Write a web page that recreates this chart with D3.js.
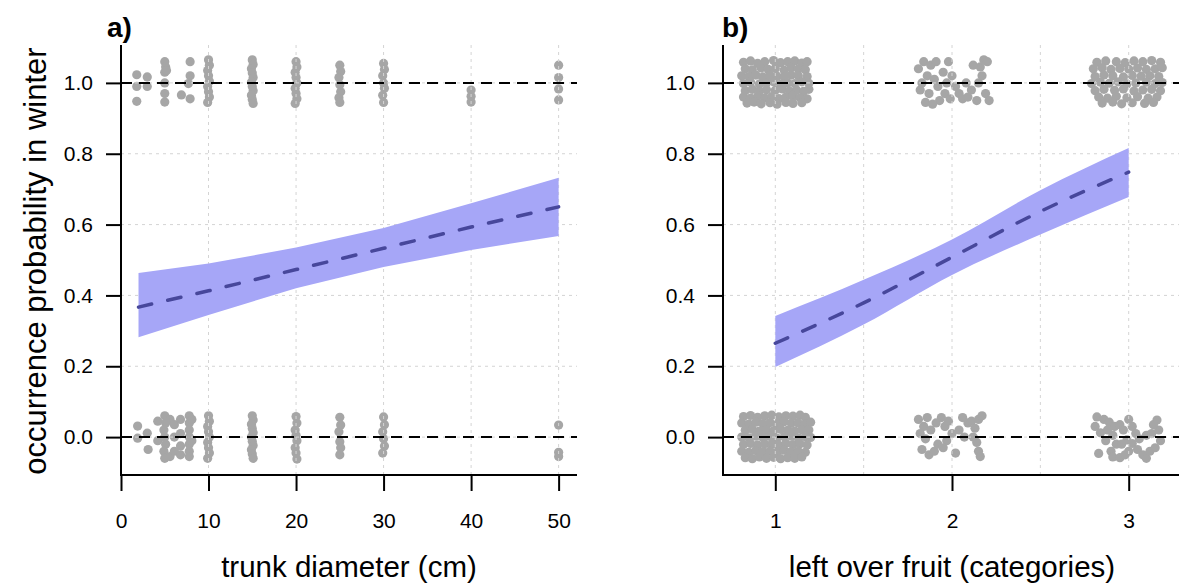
<!DOCTYPE html>
<html lang="en">
<head>
<meta charset="UTF-8">
<title>Occurrence probability in winter</title>
<script src="https://cdnjs.cloudflare.com/ajax/libs/d3/7.8.5/d3.min.js"></script>
<style>
  body { margin: 0; background: #fff; }
  svg { display: block; font-family: "Liberation Sans", Arial, sans-serif; }
</style>
</head>
<body>
<svg width="1179" height="588"></svg>
<script>
// shared y axis
const probTicks = [0, 0.2, 0.4, 0.6, 0.8, 1.0];

// panel a: trunk diameter
const trunkTicks = [0, 10, 20, 30, 40, 50];
const trunkGrid = [0, 10, 20, 30, 40, 50];
const trunkFitX = [2, 10, 20, 30, 40, 50];
const trunkFit = [0.367, 0.413, 0.473, 0.533, 0.593, 0.65];
const trunkLower = [0.282, 0.345, 0.42, 0.48, 0.528, 0.568];
const trunkUpper = [0.463, 0.49, 0.535, 0.59, 0.66, 0.732];
// jittered observations [diameter, occurrence]
const trunkPoints = [
  [1.8,1.023],[1.8,0.99],[1.8,0.948],[3.0,1.017],[3.0,0.99],
  [5.0,1.06],[5.1,1.045],[5.0,1.03],[5.2,1.035],[5.0,1.0],[5.0,0.97],[5.0,0.946],
  [6.9,0.966],[7.9,1.06],[7.9,1.02],[7.7,0.998],[7.9,0.955],
  [10,1.065],[10.1,1.05],[9.9,1.035],[10,1.02],[10.1,1.005],[9.9,0.99],[10,0.975],[10.1,0.96],[9.9,0.945],
  [15,1.065],[15.1,1.052],[14.9,1.04],[15,1.028],[15.1,1.015],[14.9,1.002],[15,0.99],[15.1,0.978],[14.9,0.965],[15,0.953],[15.1,0.942],
  [20,1.06],[20.1,1.045],[19.9,1.03],[20,1.015],[20.1,1.0],[19.9,0.985],[20,0.97],[20.1,0.955],[19.9,0.942],
  [25,1.05],[25.1,1.032],[24.9,1.015],[25,0.995],[25.1,0.975],[24.9,0.958],[25,0.945],
  [30,1.055],[30.1,1.038],[29.9,1.02],[30,1.0],[30.1,0.985],[29.9,0.965],[30,0.945],
  [40,0.98],[40,0.962],[40,0.946],
  [50,1.05],[50,1.015],[50,0.983],[50,0.952],
  [1.9,0.031],[1.9,-0.003],[3.0,0.011],[3.1,-0.035],
  [4.2,0.045],[4.2,-0.01],
  [5,0.06],[5.1,0.04],[4.9,0.02],[5,0],[5.1,-0.02],[4.9,-0.04],[5,-0.06],
  [5.6,0.05],[5.6,-0.055],[6.1,0.035],[6.1,0.0],[6.1,-0.04],
  [6.8,0.05],[6.8,0.01],[6.8,-0.025],[6.8,-0.05],
  [7.8,0.06],[7.8,0.04],[7.8,0.02],[7.8,0],[7.8,-0.02],[7.8,-0.04],[7.8,-0.055],
  [8.1,0.05],[8.1,-0.01],
  [10,0.06],[10.1,0.045],[9.9,0.03],[10,0.015],[10.1,0.0],[9.9,-0.015],[10,-0.03],[10.1,-0.045],[9.9,-0.06],
  [15,0.06],[15.1,0.048],[14.9,0.036],[15,0.024],[15.1,0.012],[14.9,0],[15,-0.012],[15.1,-0.024],[14.9,-0.036],[15,-0.048],[15.1,-0.06],
  [20,0.058],[20.1,0.04],[19.9,0.02],[20,0.005],[20.1,-0.01],[19.9,-0.03],[20,-0.045],[20.1,-0.062],
  [25,0.056],[25.1,0.034],[24.9,0.015],[25,-0.013],[25.1,-0.03],[25,-0.05],
  [30,0.057],[30.1,0.035],[29.9,0.015],[30,-0.005],[30.1,-0.025],[29.9,-0.045],
  [50,0.034],[50,-0.043],[50,-0.055]
];

// panel b: left over fruit
const fruitTicks = [1, 2, 3];
const fruitGrid = [1, 1.5, 2, 2.5, 3];
const fruitFitX = [1, 1.5, 2, 2.5, 3];
const fruitFit = [0.265, 0.379, 0.508, 0.637, 0.748];
const fruitLower = [0.198, 0.318, 0.458, 0.572, 0.678];
const fruitUpper = [0.342, 0.444, 0.558, 0.697, 0.816];
// jittered observations [category, occurrence]
const fruitPoints = [
  [0.82,1.058],[0.86,1.062],[0.9,1.055],[0.94,1.06],[0.99,1.063],[1.03,1.057],[1.07,1.06],[1.11,1.062],[1.15,1.056],[1.18,1.06],
  [0.83,1.04],[0.87,1.037],[0.92,1.042],[0.96,1.038],[1.0,1.041],[1.05,1.036],[1.09,1.043],[1.13,1.039],[1.17,1.037],
  [0.81,1.02],[0.85,1.018],[0.89,1.022],[0.93,1.017],[0.97,1.021],[1.01,1.019],[1.05,1.016],[1.09,1.022],[1.13,1.02],[1.18,1.018],
  [0.82,0.998],[0.86,1.002],[0.91,0.997],[0.95,1.0],[0.99,1.003],[1.03,0.996],[1.07,1.0],[1.11,0.998],[1.15,1.003],[1.19,0.999],
  [0.83,0.978],[0.87,0.982],[0.91,0.977],[0.95,0.981],[1.0,0.979],[1.04,0.983],[1.08,0.977],[1.12,0.98],[1.16,0.976],[1.19,0.982],
  [0.82,0.96],[0.86,0.957],[0.9,0.962],[0.94,0.958],[0.98,0.961],[1.02,0.956],[1.06,0.96],[1.1,0.963],[1.14,0.958],[1.18,0.955],
  [0.84,0.943],[0.88,0.946],[0.92,0.941],[0.97,0.944],[1.01,0.94],[1.06,0.945],[1.1,0.942],[1.15,0.944],
  [0.82,0.058],[0.86,0.061],[0.9,0.056],[0.94,0.06],[0.98,0.062],[1.02,0.057],[1.06,0.06],[1.1,0.059],[1.14,0.062],[1.17,0.056],
  [0.81,0.04],[0.85,0.037],[0.89,0.042],[0.93,0.038],[0.97,0.041],[1.01,0.036],[1.05,0.043],[1.09,0.039],[1.13,0.04],[1.17,0.037],[1.2,0.042],
  [0.83,0.019],[0.87,0.022],[0.91,0.017],[0.95,0.021],[0.99,0.018],[1.03,0.022],[1.07,0.019],[1.11,0.017],[1.15,0.021],[1.19,0.02],
  [0.81,0.0],[0.85,-0.002],[0.89,0.003],[0.93,-0.001],[0.97,0.002],[1.01,-0.003],[1.05,0.001],[1.09,0.003],[1.13,-0.002],[1.17,0.001],[1.2,-0.001],
  [0.82,-0.021],[0.86,-0.018],[0.9,-0.022],[0.94,-0.019],[0.98,-0.02],[1.02,-0.023],[1.06,-0.018],[1.1,-0.021],[1.14,-0.019],[1.18,-0.022],
  [0.81,-0.04],[0.85,-0.043],[0.89,-0.038],[0.93,-0.041],[0.97,-0.039],[1.01,-0.042],[1.05,-0.037],[1.09,-0.041],[1.13,-0.04],[1.17,-0.043],
  [0.83,-0.058],[0.87,-0.061],[0.91,-0.056],[0.95,-0.06],[0.99,-0.057],[1.03,-0.061],[1.07,-0.058],[1.11,-0.06],[1.15,-0.056],
  [1.81,1.04],[1.84,1.06],[1.86,1.02],[1.83,1.0],[1.88,1.05],[1.9,1.01],[1.82,0.98],[1.87,0.97],[1.92,0.99],[1.95,1.03],
  [1.97,1.0],[1.96,0.97],[1.99,0.955],[2.02,0.99],[2.04,0.97],[2.06,0.955],[2.0,1.02],[1.93,0.95],[1.85,0.945],[1.89,0.94],
  [2.09,0.96],[2.11,0.98],[2.14,0.95],[2.15,1.0],[2.17,1.02],[2.16,1.045],[2.18,1.065],[2.2,1.06],[2.19,0.97],[2.21,0.95],
  [2.08,1.0],[1.98,1.06],[2.12,1.05],[1.91,1.06],
  [1.81,0.05],[1.84,0.03],[1.86,0.055],[1.82,0.01],[1.85,-0.005],[1.83,-0.035],[1.87,-0.05],[1.9,-0.04],[1.92,-0.02],[1.88,0.02],
  [1.91,0.04],[1.94,0.055],[1.96,0.03],[1.98,0.045],[2.0,0.01],[1.97,-0.01],[2.02,-0.045],[2.04,0.02],[2.06,0.055],[2.09,0.04],
  [2.11,0.045],[2.13,0.025],[2.15,0.05],[2.17,0.06],[2.12,0.0],[2.14,-0.015],[2.15,-0.04],[2.16,-0.055],[2.07,0.0],[1.95,-0.03],
  [2.82,1.058],[2.87,1.062],[2.93,1.06],[2.98,1.057],[3.03,1.062],[3.08,1.06],[3.13,1.063],[3.18,1.058],
  [2.8,1.04],[2.85,1.043],[2.9,1.038],[2.95,1.041],[3.0,1.039],[3.05,1.042],[3.1,1.038],[3.15,1.04],[3.19,1.043],
  [2.81,1.018],[2.86,1.022],[2.91,1.02],[2.97,1.017],[3.02,1.021],[3.07,1.019],[3.12,1.02],[3.17,1.018],
  [2.79,0.998],[2.84,1.002],[2.89,0.999],[2.94,1.003],[2.99,0.997],[3.04,1.0],[3.1,1.002],[3.15,0.998],[3.19,1.001],
  [2.81,0.978],[2.86,0.982],[2.92,0.979],[2.97,0.983],[3.03,0.977],[3.08,0.98],[3.13,0.982],[3.18,0.978],
  [2.83,0.96],[2.88,0.957],[2.93,0.962],[2.99,0.958],[3.05,0.961],[3.11,0.957],[3.16,0.96],
  [2.85,0.943],[2.91,0.946],[2.96,0.941],[3.02,0.944],[3.09,0.942],[3.14,0.945],
  [2.82,0.057],[2.86,0.05],[2.89,0.042],[2.92,0.03],[2.95,0.035],[2.81,0.03],[2.84,0.012],[2.88,0.02],[2.91,0.005],[2.97,0.02],
  [3.02,0.03],[3.0,0.05],[2.99,-0.008],[2.87,-0.01],[2.93,-0.02],[3.02,-0.018],[3.06,-0.005],[3.1,0.005],[3.13,0.01],[3.17,0.02],
  [3.16,0.048],[3.14,0.035],[3.18,-0.01],[2.83,-0.046],[2.9,-0.04],[2.91,-0.056],[2.95,-0.058],[2.98,-0.05],[3.0,-0.04],[3.05,-0.035],
  [3.08,-0.05],[3.1,-0.06],[3.12,-0.04],[3.15,-0.03],[2.96,-0.02],[3.04,0.01]
];

const svg = d3.select("svg");
const yDomain = [-0.107, 1.107];
const plotTop = 45, plotBottom = 475;

function drawPanel(p) {
    const x = d3.scaleLinear().domain(p.xDomain).range([p.left, p.right]);
    const y = d3.scaleLinear().domain(yDomain).range([plotBottom, plotTop]);
    const g = svg.append("g");

    // jittered raw observations
    g.append("g").selectAll("circle")
        .data(p.points)
        .enter().append("circle")
        .attr("cx", d => x(d[0]))
        .attr("cy", d => y(d[1]))
        .attr("r", 4.6)
        .attr("fill", "#a6a6a6");

    // dotted grid
    const grid = g.append("g")
        .attr("stroke", "#d4d4d4")
        .attr("stroke-width", 1)
        .attr("stroke-dasharray", "3,4");
    grid.selectAll(".gx").data(p.grid).enter().append("line")
        .attr("x1", d => x(d)).attr("x2", d => x(d))
        .attr("y1", plotTop).attr("y2", plotBottom);
    grid.selectAll(".gy").data(probTicks).enter().append("line")
        .attr("x1", p.left).attr("x2", p.right)
        .attr("y1", d => y(d)).attr("y2", d => y(d));

    // confidence band
    const rows = p.fitX.map((v, i) => ({ x: v, fit: p.fit[i], lo: p.lower[i], hi: p.upper[i] }));
    g.append("path")
        .datum(rows)
        .attr("fill", "#a6a6f7")
        .attr("d", d3.area()
            .curve(p.curve)
            .x(d => x(d.x))
            .y0(d => y(d.lo))
            .y1(d => y(d.hi)));

    // fitted line
    g.append("path")
        .datum(rows)
        .attr("fill", "none")
        .attr("stroke", "#47479b")
        .attr("stroke-width", 3.5)
        .attr("stroke-linecap", "round")
        .attr("stroke-dasharray", "13.5,16.5")
        .attr("d", d3.line()
            .curve(p.curve)
            .x(d => x(d.x))
            .y(d => y(d.fit)));

    // reference lines at 0 and 1
    g.selectAll(".ref").data([0, 1]).enter().append("line")
        .attr("x1", p.left).attr("x2", p.right)
        .attr("y1", d => y(d)).attr("y2", d => y(d))
        .attr("stroke", "#000")
        .attr("stroke-width", 2)
        .attr("stroke-dasharray", "11,7");

    // axes
    const yAxis = g.append("g")
        .attr("transform", `translate(${p.left},0)`)
        .call(d3.axisLeft(y).tickValues(probTicks).tickFormat(d3.format(".1f")).tickSize(15).tickPadding(13));
    const xAxis = g.append("g")
        .attr("transform", `translate(0,${plotBottom + 1})`)
        .call(d3.axisBottom(x).tickValues(p.ticks).tickFormat(d3.format("d")).tickSize(15).tickPadding(22));
    [yAxis, xAxis].forEach(a => {
        a.select(".domain").remove();
        a.selectAll("line").attr("stroke", "#000").attr("stroke-width", 2);
        a.selectAll("text")
            .attr("fill", "#000")
            .style("font-size", "21px")
            .style("font-family", '"Liberation Sans", Arial, sans-serif');
    });

    // L-shaped box
    g.append("path")
        .attr("fill", "none")
        .attr("stroke", "#000")
        .attr("stroke-width", 2)
        .attr("d", `M${p.left},${plotTop}V${plotBottom}H${p.right}`);

    // titles
    g.append("text")
        .attr("x", (p.left + p.right) / 2)
        .attr("y", 577)
        .attr("text-anchor", "middle")
        .style("font-size", "29.5px")
        .text(p.xTitle);

    g.append("text")
        .attr("x", p.labelX)
        .attr("y", 37)
        .style("font-size", "28px")
        .style("font-weight", "bold")
        .text(p.label);
}

drawPanel({
    xDomain: [0, 52.1], left: 121, right: 577,
    ticks: trunkTicks, grid: trunkGrid,
    fitX: trunkFitX, fit: trunkFit, lower: trunkLower, upper: trunkUpper,
    curve: d3.curveLinear,
    points: trunkPoints,
    xTitle: "trunk diameter (cm)", label: "a)", labelX: 107
});

drawPanel({
    xDomain: [0.704, 3.296], left: 723, right: 1181,
    ticks: fruitTicks, grid: fruitGrid,
    fitX: fruitFitX, fit: fruitFit, lower: fruitLower, upper: fruitUpper,
    curve: d3.curveMonotoneX,
    points: fruitPoints,
    xTitle: "left over fruit (categories)", label: "b)", labelX: 722
});

// shared y title
svg.append("text")
    .attr("transform", "translate(46,261) rotate(-90)")
    .attr("text-anchor", "middle")
    .style("font-size", "31px")
    .text("occurrence probability in winter");
</script>
</body>
</html>
